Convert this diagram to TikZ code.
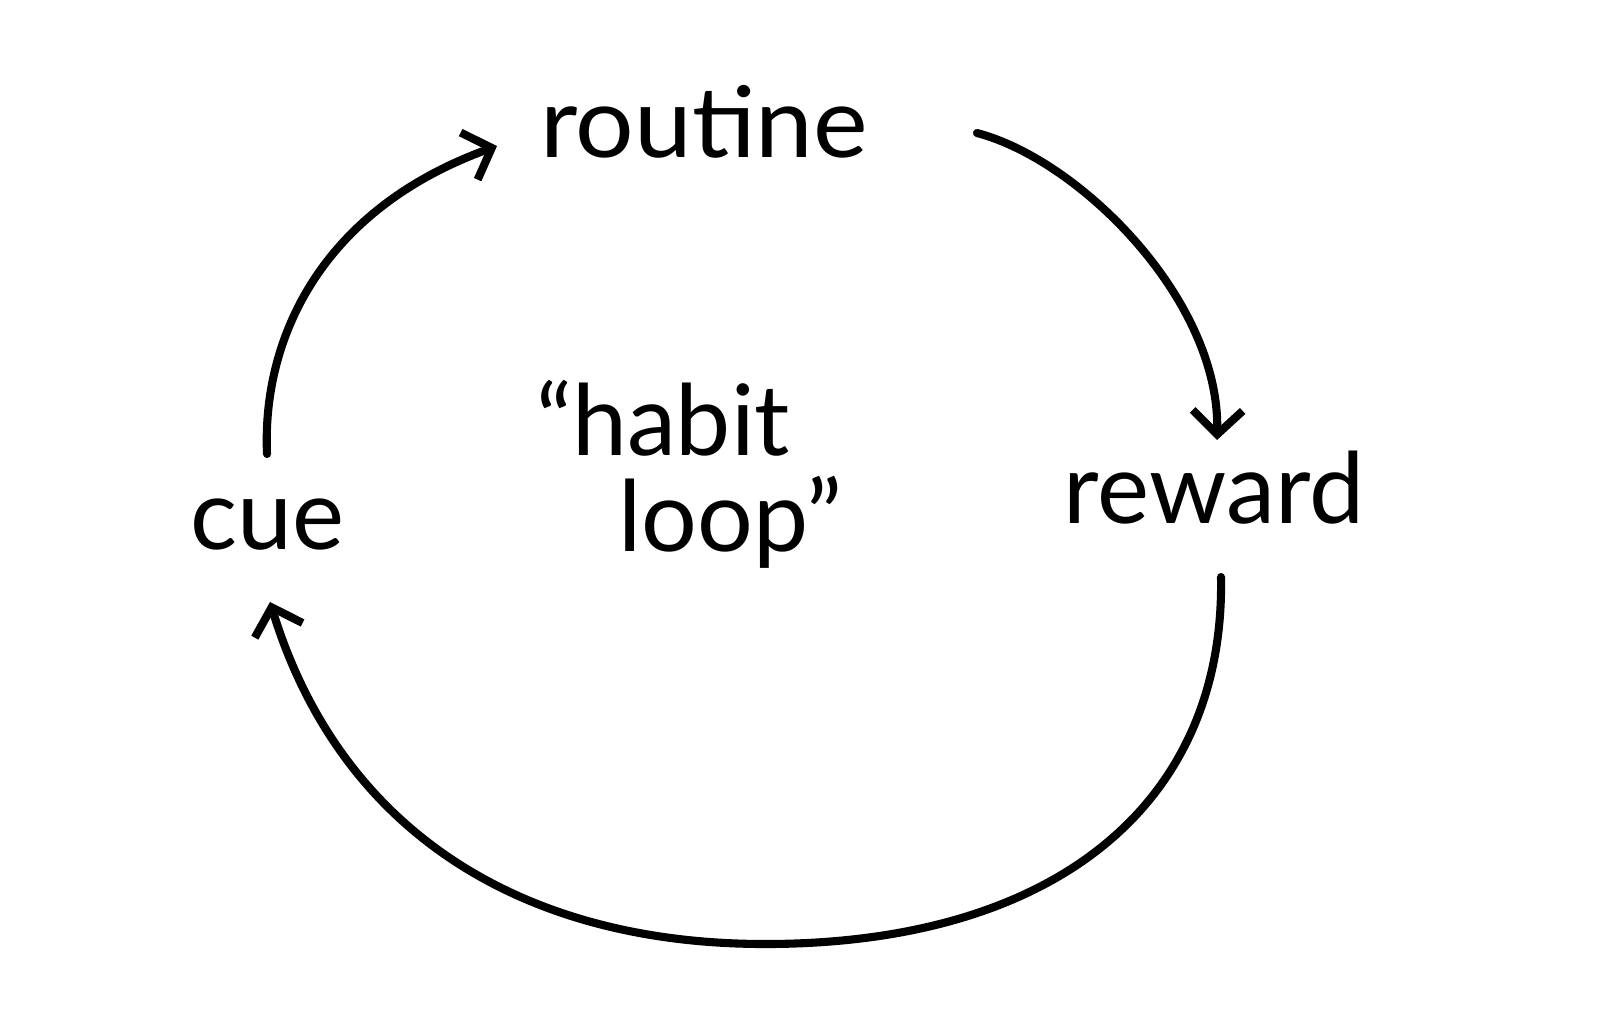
\documentclass[tikz,border=0pt]{standalone}
\usepackage{fontspec}
\setmainfont{Lato}
\usetikzlibrary{arrows.meta,calc}
\begin{document}
\begin{tikzpicture}[x=0.01cm,y=-0.01cm,
  lbl/.style={font=\fontsize{28}{30}\selectfont, inner sep=0pt},
  hand/.style={line width=2.3pt, line cap=round, -{Straight Barb[length=2.4mm,width=5mm,line width=2.3pt]}}]
\fill[white] (0,0) rectangle (1600,1014);
\useasboundingbox (0,0) rectangle (1600,1014);
\node[lbl, xscale=1.05] (routine) at (704,122) {routine};
\node[lbl] (cue) at (267,525) {cue};
\node[lbl] (reward) at (1214,488) {reward};
\node[lbl] (habit) at (663,418) {“habit};
\node[lbl] (loop) at (730,522) {loop”};
\coordinate (s1) at ($(cue)+(0,-71)$);
\coordinate (e1) at ($(routine)+(-207,24)$);
\coordinate (s2) at ($(routine)+(273,11)$);
\coordinate (e2) at ($(reward)+(3,-48)$);
\coordinate (s3) at ($(reward)+(7,89)$);
\coordinate (e3) at ($(cue)+(3,77)$);
\coordinate (b3) at (765,944);
\draw[hand] (s1) .. controls (262,340) and (320,210) .. (e1);
\draw[hand] (s2) .. controls (1080,160) and (1220,300) .. (e2);
\draw[hand] (s3) .. controls (1225,800) and (1060,944) .. (b3)
  .. controls (520,944) and (340,830) .. (e3);
\end{tikzpicture}
\end{document}
